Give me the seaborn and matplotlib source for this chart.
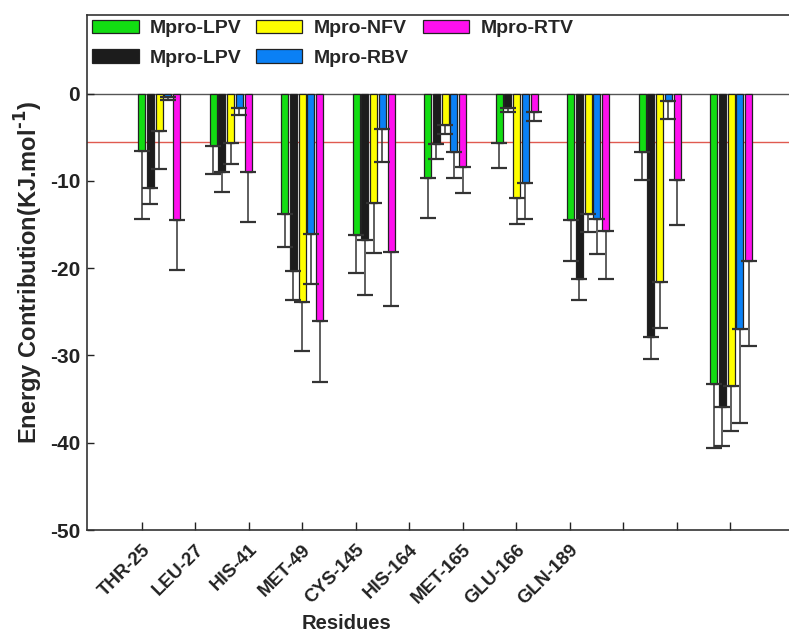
import numpy as np
import pandas as pd
import seaborn as sns
import matplotlib.pyplot as plt

residues = ['THR-25', 'LEU-27', 'HIS-41', 'MET-49', 'CYS-145',
            'HIS-164', 'MET-165', 'GLU-166', 'GLN-189']

# two series share the same legend text in the original figure
series_keys = ['lpv_a', 'lpv_b', 'nfv', 'rbv', 'rtv']
series_labels = ['Mpro-LPV', 'Mpro-LPV', 'Mpro-NFV', 'Mpro-RBV', 'Mpro-RTV']
series_colors = ['#12dd12', '#1c1c1c', '#ffff00', '#0a80f5', '#ff10ee']

lpv_a = [-6.6, -6.0, -13.8, -16.2, -9.7, -5.7, -14.5, -6.7, -33.3]
lpv_b = [-10.8, -9.0, -20.3, -16.8, -5.8, -1.6, -21.3, -27.9, -35.9]
nfv = [-4.3, -5.7, -23.9, -12.5, -3.6, -12.0, -13.8, -21.6, -33.5]
rbv = [-0.4, -1.6, -16.1, -4.1, -6.7, -10.3, -14.4, -0.9, -27.0]
rtv = [-14.5, -9.0, -26.0, -18.2, -8.4, -2.1, -15.7, -9.9, -19.2]

lpv_a_err = [7.8, 3.2, 3.8, 4.3, 4.6, 2.8, 4.7, 3.2, 7.3]
lpv_b_err = [1.9, 2.3, 3.4, 6.3, 1.7, 0.5, 2.4, 2.5, 4.5]
nfv_err = [4.3, 2.4, 5.6, 5.8, 1.0, 2.9, 2.1, 5.3, 5.2]
rbv_err = [0.3, 0.9, 5.7, 3.7, 3.0, 4.1, 4.0, 2.0, 10.7]
rtv_err = [5.7, 5.7, 7.0, 6.1, 3.0, 1.1, 5.5, 5.2, 9.7]

threshold = -5.6

values = [lpv_a, lpv_b, nfv, rbv, rtv]
errors = [lpv_a_err, lpv_b_err, nfv_err, rbv_err, rtv_err]

# bar groups sit on a wider spacing than the residue ticks (as in the original)
group_step = 1.3364
group_pos = 0.327 + group_step * np.arange(len(residues))

df = pd.DataFrame({
    'pos': np.tile(group_pos, len(series_keys)),
    'energy': np.concatenate(values),
    'series': np.repeat(series_keys, len(residues)),
})

sns.set_theme(style='ticks')
plt.rcParams['font.family'] = ['Liberation Sans', 'DejaVu Sans']
plt.rcParams['font.weight'] = 'bold'

fig = plt.figure(figsize=(7.89, 6.34), dpi=100)
ax = fig.add_axes([87 / 789, 1 - 530 / 634, 702 / 789, 515 / 634])

sns.barplot(data=df, x='pos', y='energy', hue='series', hue_order=series_keys,
            palette=series_colors, saturation=1, native_scale=True, width=0.612, gap=0.2,
            edgecolor='#222222', linewidth=0.9, errorbar=None, legend=False, ax=ax)

for cont, err in zip(ax.containers, errors):
    xs = [p.get_x() + p.get_width() / 2 for p in cont.patches]
    ys = [p.get_height() for p in cont.patches]
    ax.errorbar(xs, ys, yerr=[err, np.zeros(len(err))], fmt='none',
                ecolor='#333333', elinewidth=1.1, capsize=5.5, capthick=1.6, zorder=1)

ax.axhline(0, color='#555555', lw=1.0, zorder=0)
ax.axhline(threshold, color='#e05a50', lw=1.0, zorder=0)

ax.set_xlim(-1.02, 12.1)
ax.set_ylim(-50, 9)
ax.set_xticks(np.arange(12))
ax.set_xticklabels(residues + ['', '', ''], rotation=45, ha='right',
                   rotation_mode='anchor', fontsize=13.5, fontweight='bold')
ax.set_yticks([0, -10, -20, -30, -40, -50])
ax.set_yticklabels(['0', '-10', '-20', '-30', '-40', '-50'], fontsize=15, fontweight='bold')
ax.tick_params(axis='x', direction='in', length=6, width=1, pad=8, colors='#222222')
ax.tick_params(axis='y', direction='in', length=5, width=1, pad=5, colors='#222222')

ax.set_xlabel('Residues', fontsize=14.5, fontweight='bold')
ax.set_ylabel('Energy Contribution(KJ.mol$^{\\text{-1}}$)', fontsize=17, fontweight='bold')
ax.xaxis.set_label_coords(0.37, -0.163)
ax.yaxis.set_label_coords(-0.06, 0.5)

for side in ['left', 'bottom', 'top']:
    ax.spines[side].set_color('#333333')
    ax.spines[side].set_linewidth(1.2)
ax.spines['right'].set_visible(False)

ax.legend(handles=ax.containers[:len(series_keys)], labels=series_labels, ncol=3,
          loc='upper left', bbox_to_anchor=(0.0, 1.0), frameon=False,
          prop={'size': 14, 'weight': 'bold'}, handlelength=2.4, handleheight=0.7,
          handletextpad=0.6, columnspacing=0.7, labelspacing=0.6,
          borderaxespad=0.1, borderpad=0.15)

fig.savefig('out.png', dpi=100)
